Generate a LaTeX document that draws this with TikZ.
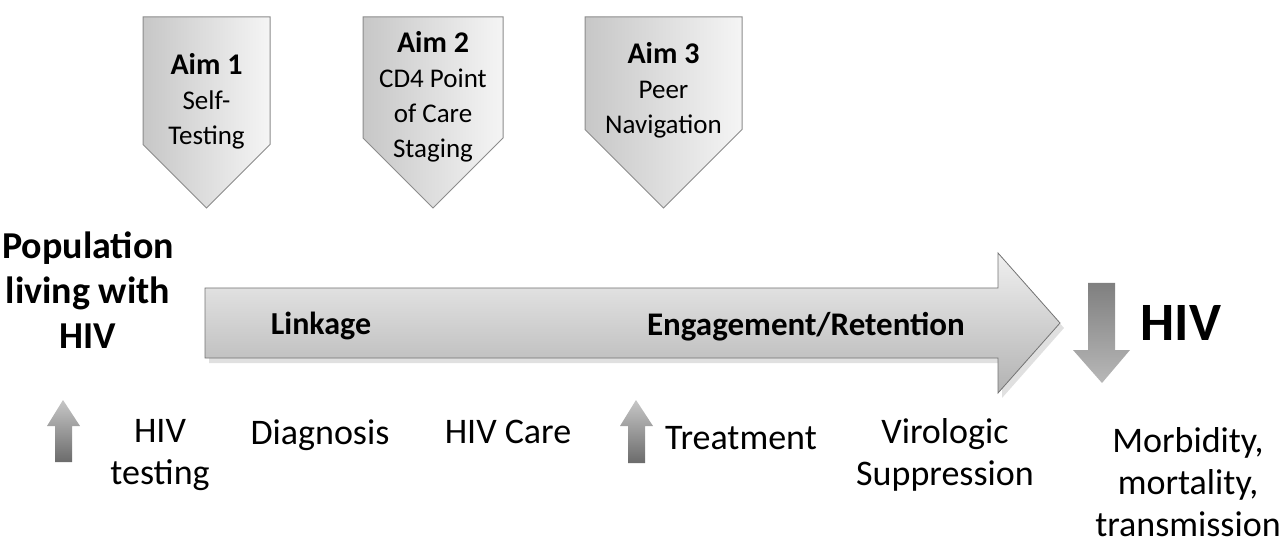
\documentclass[tikz,border=0pt]{standalone}
\usepackage{fontspec}
\setmainfont{Carlito}
\usetikzlibrary{positioning}

\begin{document}
\begin{tikzpicture}[x=1pt,y=-1pt,
    aim/.style={draw=black!45,line width=1pt,left color=black!22,right color=black!4},
    flow/.style={draw=black!55,line width=.8pt,top color=black!6,bottom color=black!30},
    downarr/.style={draw=none,top color=black!50,bottom color=black!28},
    uparr/.style={draw=none,top color=black!22,bottom color=black!58},
    stage/.style={align=center,inner sep=0pt,font=\fontsize{36}{42}\selectfont},
    bold/.style={align=center,inner sep=0pt,font=\bfseries\fontsize{32}{38}\selectfont}]
  \useasboundingbox (0,0) rectangle (1282,545);
  % the three aims
  \foreach \l/\r/\ty/\txt [count=\i] in {143/270/101/{Self-\\Testing},
      363/503/97/{CD4 Point\\of Care\\Staging}, 585/742/90/{Peer\\Navigation}}{
    \draw[aim] (\l,17) -- (\r,17) -- (\r,{208-(\r-\l)/2}) -- ({(\l+\r)/2},208)
      -- (\l,{208-(\r-\l)/2}) -- cycle;
    \node[align=center,inner sep=0pt,font=\fontsize{27}{35}\selectfont] (aim\i)
      at ({(\l+\r)/2},\ty) {{\bfseries\fontsize{30}{35}\selectfont Aim \i}\\\txt};
  }
  % cascade arrow
  \fill[black!12] (209,293) -- (1002,293) -- (1002,258) -- (1064,328) -- (1002,398)
    -- (1002,363) -- (209,363) -- cycle;
  \draw[flow] (205,288) -- (998,288) -- (998,253) -- (1060,323) -- (998,393)
    -- (998,358) -- (205,358) -- cycle;
  \node[bold] (link) at (321,326) {Linkage};
  \node[bold,font=\bfseries\fontsize{33}{38}\selectfont] (engage) at (806,327)
    {Engagement/Retention};
  \node[bold,font=\bfseries\fontsize{38}{45}\selectfont] (pop) at (88,290)
    {Population\\living with\\HIV};
  % outcome
  \draw[downarr] (1088,283) -- (1115,283) -- (1115,350) -- (1130,350) -- (1102,383)
    -- (1073,350) -- (1088,350) -- cycle;
  \node[bold,font=\bfseries\fontsize{54}{60}\selectfont] (hiv) at (1181,323) {HIV};
  % increases
  \draw[uparr] (63,400) -- (80,426) -- (72,426) -- (72,462) -- (55,462) -- (55,426)
    -- (47,426) -- cycle;
  \draw[uparr] (636,400) -- (653,426) -- (645,426) -- (645,463) -- (628,463)
    -- (628,426) -- (620,426) -- cycle;
  % stages
  \node[stage] (hivtest) at (160,455) {HIV\\testing};
  \node[stage] (diag) at (320,435) {Diagnosis};
  \node[stage] (care) at (508,432) {HIV Care};
  \node[stage] (treat) at (741,438) {Treatment};
  \node[stage] (viro) at (945,455) {Virologic\\Suppression};
  \node[stage] (morb) at (1188,482) {Morbidity,\\mortality,\\transmission};
\end{tikzpicture}
\end{document}
